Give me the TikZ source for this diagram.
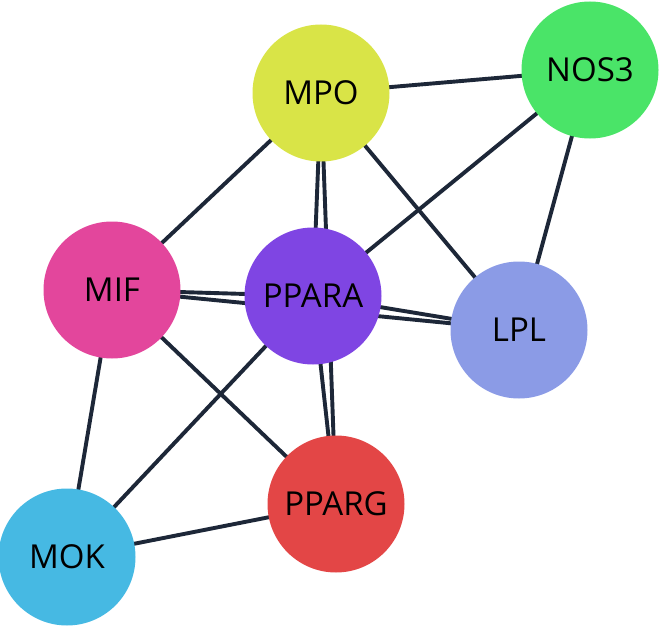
\documentclass[tikz,border=0pt]{standalone}
\usepackage{fontspec}
\setmainfont{Open Sans}
\usetikzlibrary{backgrounds}
\definecolor{edgec}{HTML}{1D2738}
\definecolor{cMPO}{HTML}{D9E447}
\definecolor{cNOS}{HTML}{4AE468}
\definecolor{cMIF}{HTML}{E3469C}
\definecolor{cPPARA}{HTML}{7F45E3}
\definecolor{cLPL}{HTML}{8B9BE6}
\definecolor{cPPARG}{HTML}{E34646}
\definecolor{cMOK}{HTML}{46B9E3}
\tikzset{
  gene/.style={circle, minimum size=137pt, inner sep=0pt, font=\fontsize{33}{36}\selectfont, text=black},
  link/.style={draw=edgec, line width=3.9pt}
}
\begin{document}
\begin{tikzpicture}[x=1pt,y=-1pt]
\useasboundingbox (0,0) rectangle (659,626);
\node[gene, fill=cMPO]   (MPO)   at (321,93)  {MPO};
\node[gene, fill=cNOS]   (NOS3)  at (590,70)  {NOS3};
\node[gene, fill=cMIF]   (MIF)   at (112,290) {MIF};
\node[gene, fill=cPPARA] (PPARA) at (313,296) {PPARA};
\node[gene, fill=cLPL]   (LPL)   at (519,330) {LPL};
\node[gene, fill=cPPARG] (PPARG) at (336,504) {PPARG};
\node[gene, fill=cMOK]   (MOK)   at (67,557)  {MOK};
\begin{scope}[on background layer]
\draw[link] (MPO.center) -- (NOS3.center);
\draw[link] (MPO.center) -- (MIF.center);
\draw[link] (MPO.center) -- (PPARA.center);
\draw[link] (MPO.center) -- (PPARG.center);
\draw[link] (MPO.center) -- (LPL.center);
\draw[link] (NOS3.center) -- (PPARA.center);
\draw[link] (NOS3.center) -- (LPL.center);
\draw[link] (MIF.center) -- (PPARA.center);
\draw[link] (MIF.center) -- (LPL.center);
\draw[link] (PPARA.center) -- (LPL.center);
\draw[link] (MIF.center) -- (PPARG.center);
\draw[link] (MIF.center) -- (MOK.center);
\draw[link] (PPARA.center) -- (PPARG.center);
\draw[link] (PPARA.center) -- (MOK.center);
\draw[link] (PPARG.center) -- (MOK.center);
\end{scope}
\end{tikzpicture}
\end{document}
